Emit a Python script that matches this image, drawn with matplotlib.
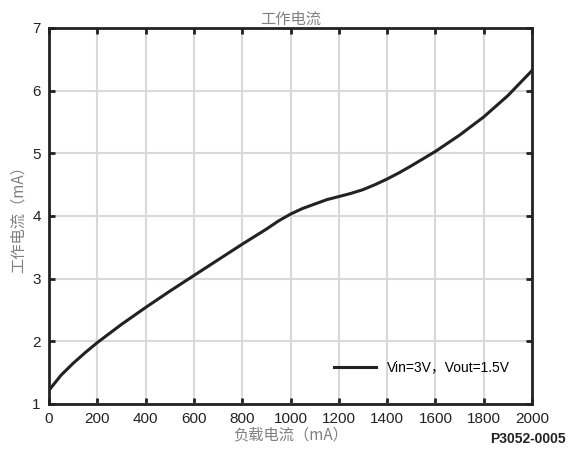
import numpy as np
import matplotlib.pyplot as plt

plt.rcParams['font.family'] = ['Liberation Sans', 'Noto Sans CJK SC']

# load current (mA) vs supply current (mA)
load_ma = [0, 50, 100, 150, 200, 300, 400, 500, 600, 700, 800, 900, 950, 1000,
           1050, 1100, 1150, 1200, 1250, 1300, 1350, 1400, 1450, 1500, 1600, 1700,
           1800, 1900, 2000]
supply_ma = [1.22, 1.46, 1.65, 1.82, 1.98, 2.27, 2.54, 2.80, 3.05, 3.30, 3.55,
             3.79, 3.92, 4.03, 4.12, 4.19, 4.26, 4.31, 4.36, 4.42, 4.50, 4.59, 4.69,
             4.80, 5.03, 5.29, 5.58, 5.92, 6.32]

xticks = [0, 200, 400, 600, 800, 1000, 1200, 1400, 1600, 1800, 2000]
yticks = [1, 2, 3, 4, 5, 6, 7]

fig = plt.figure(figsize=(5.74, 4.55), dpi=100)
ax = fig.add_axes([0.0854, 0.1121, 0.8414, 0.8264])

ax.plot(load_ma, supply_ma, color='#222222', lw=2.2, solid_joinstyle='round',
        label='Vin=3V，Vout=1.5V')

ax.set_xlim(0, 2000)
ax.set_ylim(1, 7)
ax.set_xticks(xticks)
ax.set_yticks(yticks)
ax.grid(True, color='#d9d9d9', lw=1.5)
ax.set_axisbelow(True)
for s in ax.spines.values():
    s.set_color('#222222')
    s.set_linewidth(2)
ax.tick_params(direction='in', length=4, width=2, color='#222222',
               top=True, right=True, labelsize=11, labelcolor='#222222', pad=6)

cjk = ['Noto Sans CJK SC', 'Liberation Sans']
ax.set_title('工作电流', fontsize=11, color='#808080', family=cjk, pad=3)
ax.set_xlabel('负载电流（mA）', fontsize=11, color='#808080', family=cjk, labelpad=0)
ax.set_ylabel('工作电流（mA）', fontsize=11, color='#808080', family=cjk, labelpad=4)

ax.legend(loc='lower right', bbox_to_anchor=(0.98, 0.045), frameon=False,
          handlelength=3, prop={'family': cjk[::-1], 'size': 10})

fig.text(0.985, 0.02, 'P3052-0005', ha='right', va='bottom', fontsize=10,
         fontweight='bold', color='#222222')

fig.savefig('out.png', dpi=100)
